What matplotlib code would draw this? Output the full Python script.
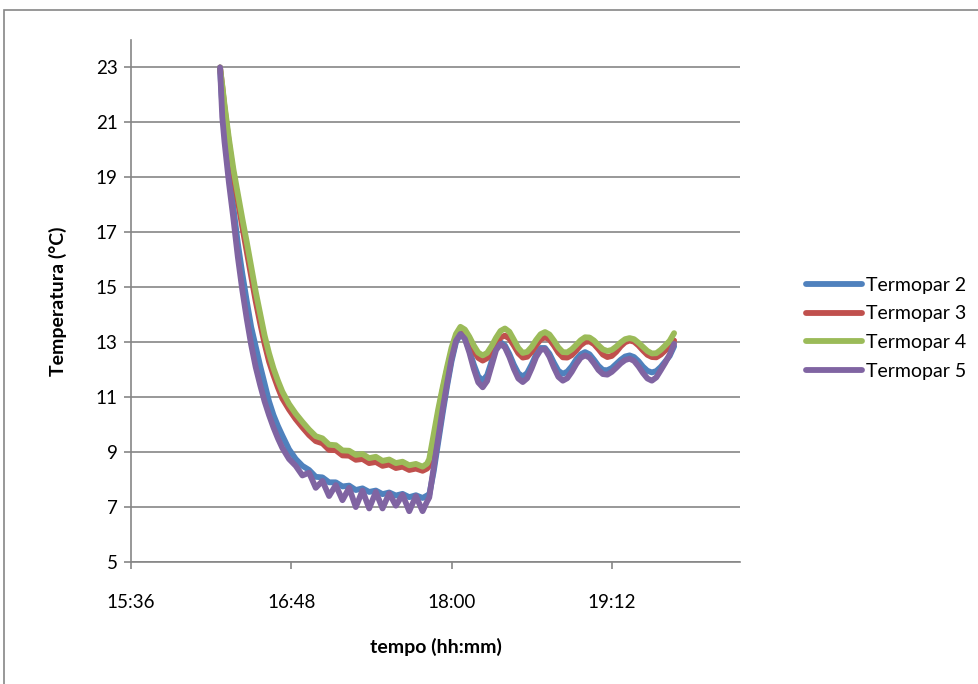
import matplotlib.pyplot as plt
from matplotlib.patches import Rectangle


# leituras dos termopares (tempo em hh:mm, temperatura em C)
tempo = ["16:16", "16:17", "16:18", "16:20", "16:22", "16:24", "16:26", "16:28",
         "16:30", "16:32", "16:34", "16:36", "16:38", "16:40", "16:42", "16:44",
         "16:47", "16:50", "16:53", "16:56", "16:59", "17:02", "17:05", "17:08",
         "17:11", "17:14", "17:17", "17:20", "17:23", "17:26", "17:29", "17:32",
         "17:35", "17:38", "17:41", "17:44", "17:47", "17:49", "17:50", "17:52",
         "17:54", "17:56", "17:58", "18:00", "18:02", "18:04", "18:06", "18:08",
         "18:10", "18:12", "18:14", "18:16", "18:18", "18:20", "18:22", "18:24",
         "18:26", "18:28", "18:30", "18:32", "18:34", "18:36", "18:38", "18:40",
         "18:42", "18:44", "18:46", "18:48", "18:50", "18:52", "18:54", "18:56",
         "18:58", "19:00", "19:02", "19:04", "19:06", "19:08", "19:10", "19:12",
         "19:14", "19:16", "19:18", "19:20", "19:22", "19:24", "19:26", "19:28",
         "19:30", "19:32", "19:34", "19:36", "19:38", "19:40"]

termopar2 = [23.0, 21.6, 20.8, 19.3, 17.9, 16.6, 15.5, 14.5,
             13.55, 12.85, 12.15, 11.5, 10.85, 10.35, 9.95, 9.6,
             9.1, 8.75, 8.5, 8.35, 8.1, 8.08, 7.9, 7.9,
             7.75, 7.78, 7.62, 7.68, 7.55, 7.6, 7.47, 7.53,
             7.42, 7.48, 7.36, 7.43, 7.33, 7.42, 7.45, 8.3,
             9.35, 10.4, 11.4, 12.3, 13.0, 13.3, 13.14, 12.71,
             12.19, 11.76, 11.6, 11.8, 12.3, 12.8, 13.0, 12.88,
             12.57, 12.18, 11.87, 11.75, 11.88, 12.19, 12.55, 12.79,
             12.79, 12.58, 12.25, 11.96, 11.85, 11.93, 12.12, 12.37,
             12.56, 12.64, 12.56, 12.36, 12.14, 11.99, 11.98, 12.06,
             12.21, 12.36, 12.48, 12.52, 12.46, 12.31, 12.11, 11.96,
             11.9, 11.95, 12.1, 12.3, 12.5, 12.85]

termopar3 = [23.0, 22.3, 21.55, 20.25, 19.1, 18.15, 17.2, 16.3,
             15.4, 14.5, 13.7, 12.95, 12.3, 11.8, 11.35, 10.95,
             10.55, 10.2, 9.9, 9.62, 9.4, 9.32, 9.08, 9.07,
             8.88, 8.87, 8.72, 8.75, 8.6, 8.64, 8.5, 8.55,
             8.42, 8.47, 8.35, 8.4, 8.32, 8.4, 8.5, 9.45,
             10.4, 11.25, 12.0, 12.65, 13.15, 13.36, 13.27, 13.02,
             12.7, 12.43, 12.33, 12.42, 12.66, 12.95, 13.17, 13.24,
             13.13, 12.88, 12.6, 12.44, 12.47, 12.65, 12.89, 13.1,
             13.18, 13.1, 12.88, 12.62, 12.45, 12.44, 12.53, 12.7,
             12.89, 13.01, 13.03, 12.93, 12.75, 12.55, 12.46, 12.5,
             12.65, 12.85, 13.0, 13.06, 13.02, 12.88, 12.7, 12.54,
             12.46, 12.45, 12.55, 12.7, 12.85, 13.06]

termopar4 = [23.0, 22.35, 21.65, 20.4, 19.3, 18.4, 17.5, 16.65,
             15.75, 14.85, 14.05, 13.25, 12.6, 12.05, 11.6, 11.2,
             10.75, 10.4, 10.1, 9.82, 9.58, 9.5, 9.27, 9.25,
             9.06, 9.05, 8.9, 8.93, 8.78, 8.83, 8.68, 8.73,
             8.6, 8.65, 8.52, 8.57, 8.47, 8.58, 8.75, 9.65,
             10.55, 11.35, 12.1, 12.8, 13.3, 13.56, 13.46, 13.2,
             12.88, 12.62, 12.52, 12.61, 12.86, 13.16, 13.41, 13.5,
             13.38, 13.09, 12.79, 12.61, 12.65, 12.83, 13.08, 13.29,
             13.37, 13.28, 13.06, 12.81, 12.64, 12.63, 12.74, 12.9,
             13.07, 13.18, 13.17, 13.06, 12.89, 12.74, 12.68, 12.72,
             12.84, 12.99, 13.11, 13.15, 13.11, 12.98, 12.83, 12.68,
             12.59, 12.6, 12.72, 12.88, 13.05, 13.33]

termopar5 = [23.0, 21.2, 20.3, 18.8, 17.5, 16.1, 14.9, 13.85,
             12.9, 12.1, 11.45, 10.85, 10.35, 9.9, 9.5, 9.15,
             8.75, 8.5, 8.15, 8.25, 7.7, 7.95, 7.4, 7.8,
             7.25, 7.7, 7.0, 7.6, 6.95, 7.55, 6.95, 7.5,
             7.05, 7.45, 6.85, 7.4, 6.85, 7.2, 7.35, 8.45,
             9.5, 10.55, 11.5, 12.4, 13.05, 13.3, 13.12, 12.63,
             12.03, 11.54, 11.36, 11.59, 12.15, 12.71, 12.94, 12.81,
             12.46, 12.03, 11.68, 11.55, 11.69, 12.05, 12.46, 12.72,
             12.75, 12.47, 12.08, 11.74, 11.6, 11.69, 11.92, 12.2,
             12.43, 12.52, 12.44, 12.23, 11.99, 11.84, 11.82, 11.92,
             12.07, 12.23, 12.35, 12.4, 12.32, 12.12, 11.88, 11.68,
             11.6, 11.72, 11.98, 12.25, 12.55, 12.94]

series = {
    "Termopar 2": termopar2,
    "Termopar 3": termopar3,
    "Termopar 4": termopar4,
    "Termopar 5": termopar5,
}
cores = ["#4F81BD", "#C0504D", "#9BBB59", "#8064A2"]

x_ticklabels = ["15:36", "16:48", "18:00", "19:12"]
y_ticks = [5, 7, 9, 11, 13, 15, 17, 19, 21, 23]


def to_min(hhmm):
    h, m = hhmm.split(":")
    return int(h) * 60 + int(m)


plt.rcParams["font.family"] = ["Lato", "DejaVu Sans"]
gray = "#868686"

fig = plt.figure(figsize=(9.79, 6.84), dpi=100)
ax = fig.add_axes([131 / 979, 1 - 562 / 684, 609 / 979, 522 / 684])

t = [to_min(s) for s in tempo]
for (nome, vals), c in zip(series.items(), cores):
    ax.plot(t, vals, color=c, lw=4.2, label=nome,
            solid_joinstyle="round", solid_capstyle="round")

ax.set_xlim(to_min("15:36"), 1209.6)
ax.set_ylim(5, 24)
ax.set_xticks([to_min(s) for s in x_ticklabels])
ax.set_xticklabels(x_ticklabels)
ax.set_yticks(y_ticks)

ax.yaxis.grid(True, color=gray, lw=1.2)
ax.set_axisbelow(True)
for s in ["top", "right"]:
    ax.spines[s].set_visible(False)
for s in ["left", "bottom"]:
    ax.spines[s].set_color(gray)
    ax.spines[s].set_linewidth(1.2)
ax.tick_params(axis="both", colors=gray, labelcolor="black", labelsize=13.5,
               length=5, width=1.2, direction="out")
ax.tick_params(axis="x", pad=18)
ax.tick_params(axis="y", pad=4.5)

ax.set_xlabel("tempo (hh:mm)", fontsize=14, fontweight="bold")
ax.set_ylabel("Temperatura (°C)", fontsize=14, fontweight="bold")
ax.xaxis.set_label_coords(0.5, -0.146)
ax.yaxis.set_label_coords(-0.105, 0.5)

ax.legend(loc="center left", bbox_to_anchor=(1.079, 0.448), frameon=False,
          fontsize=14, handlelength=2.9, handletextpad=0.2,
          labelspacing=0.6)

# moldura cinza do grafico (cortada a direita e em baixo)
fig.patches.append(Rectangle((4 / 979, -0.1), 1.2, 1.1 - 10 / 684,
                             transform=fig.transFigure, fill=False,
                             edgecolor=gray, lw=1.2))

fig.savefig("out.png", dpi=100)
